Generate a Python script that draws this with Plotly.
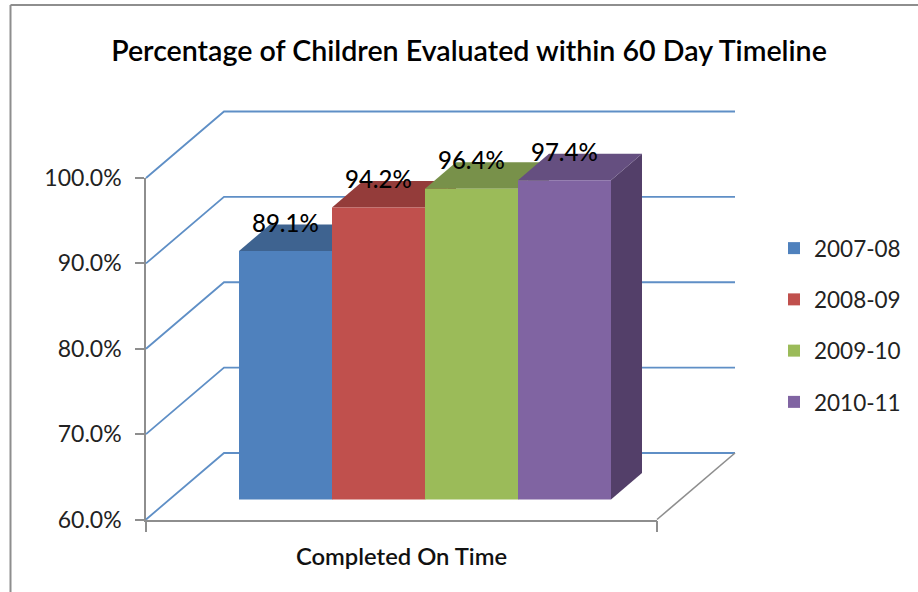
import plotly.graph_objects as go

TITLE = "Percentage of Children Evaluated within 60 Day Timeline"
CATEGORY = "Completed On Time"
series = ["2007-08", "2008-09", "2009-10", "2010-11"]
values = [89.1, 94.2, 96.4, 97.4]
labels = ["89.1%", "94.2%", "96.4%", "97.4%"]
y_ticks = [60, 70, 80, 90, 100]
y_tick_labels = ["60.0%", "70.0%", "80.0%", "90.0%", "100.0%"]
front_colors = ["#4F81BD", "#C0504D", "#9BBB59", "#8064A2"]
top_colors = ["#3E6390", "#943C3A", "#78914A", "#654F80"]
side_colors = ["#35547A", "#7E3331", "#657B3A", "#533F69"]

W, H = 918, 592
AX_L, AX_R, AX_T, AX_B = 146.0, 657.0, 178.0, 519.5
PX_X = AX_R - AX_L
PX_Y = (AX_B - AX_T) / 40.0        # pixels per percentage point
WALL_PX_X, WALL_PX_Y = 78.0, 66.5
WALL_DX, WALL_DY = WALL_PX_X / PX_X, WALL_PX_Y / PX_Y
BAR_SHIFT_X, BAR_SHIFT_Y = 23.5, 20.0
BAR_PX_X, BAR_PX_Y = 31.0, 26.5
BAR_DX, BAR_DY = BAR_PX_X / PX_X, BAR_PX_Y / PX_Y
BARGAP = 1 - 372.0 / PX_X
GROUP = 1 - BARGAP
PAD = 3.0  # spare pixels round the enlarged subplots, so their lines are not cut
BLUE = "#5F8FC6"
GREY = "#8E8E8E"
FONT = "Lato"


def x_span(shift, extra):
    """domain and range of an x axis with the base scale, moved by shift, grown by extra px."""
    dom = [(AX_L + shift - PAD) / W, (AX_R + shift + extra + PAD) / W]
    rng = [-0.5 - PAD / PX_X, 0.5 + (extra + PAD) / PX_X]
    return dict(domain=dom, range=rng)


def y_span(shift, extra):
    dom = [(H - AX_B + shift - PAD) / H, (H - AX_T + shift + extra + PAD) / H]
    rng = [60 - PAD / PX_Y, 100 + (extra + PAD) / PX_Y]
    return dict(domain=dom, range=rng)


fig = go.Figure()

# the front axes: this trace only makes Plotly draw them
fig.add_trace(go.Scatter(x=[-0.5], y=[60], mode="lines", showlegend=False, hoverinfo="skip"))

# walls and floor, on a subplot enlarged to reach the back wall
for lv in y_ticks:
    fig.add_trace(go.Scatter(
        x=[-0.5, -0.5 + WALL_DX, 0.5 + WALL_DX], y=[lv, lv + WALL_DY, lv + WALL_DY],
        xaxis="x2", yaxis="y2", mode="lines", line=dict(color=BLUE, width=1.8),
        showlegend=False, hoverinfo="skip"))
fig.add_trace(go.Scatter(
    x=[0.5, 0.5 + WALL_DX], y=[60, 60 + WALL_DY], xaxis="x2", yaxis="y2", mode="lines",
    line=dict(color=GREY, width=1.6), showlegend=False, hoverinfo="skip"))

centers = [-GROUP / 2 + (i + 0.5) * GROUP / 4 for i in range(4)]
bw = GROUP / 4

# depth faces, stacked above the walls and below the bar fronts
for c, v, tc, sc in zip(centers, values, top_colors, side_colors):
    l, r = c - bw / 2, c + bw / 2
    fig.add_trace(go.Scatter(
        x=[r, r + BAR_DX, r + BAR_DX, r, r], y=[60, 60 + BAR_DY, v + BAR_DY, v, 60],
        xaxis="x3", yaxis="y3", mode="lines", fill="toself", fillcolor=sc,
        line=dict(width=0), showlegend=False, hoverinfo="skip"))
    fig.add_trace(go.Scatter(
        x=[l, l + BAR_DX, r + BAR_DX, r, l], y=[v, v + BAR_DY, v + BAR_DY, v, v],
        xaxis="x3", yaxis="y3", mode="lines", fill="toself", fillcolor=tc,
        line=dict(width=0), showlegend=False, hoverinfo="skip"))

# bar fronts
for name, v, col in zip(series, values, front_colors):
    fig.add_trace(go.Bar(
        x=[0], y=[v], name=name, xaxis="x4", yaxis="y4", legendgroup=name,
        marker=dict(color=col, line=dict(width=0))))

x_dom = [AX_L / W, AX_R / W]
y_dom = [(H - AX_B) / H, (H - AX_T) / H]
hidden = dict(visible=False, showgrid=False, zeroline=False, fixedrange=True)

fig.update_layout(
    width=W, height=H, margin=dict(l=0, r=0, t=0, b=0, autoexpand=False),
    paper_bgcolor="white", plot_bgcolor="rgba(0,0,0,0)",
    barmode="group", bargap=BARGAP, bargroupgap=0,
    font=dict(family=FONT, color="#222222"),
    title=dict(text=TITLE, x=469 / W, xanchor="center", y=1 - 51 / H, yanchor="middle",
               font=dict(family=FONT, size=28.6, color="#000000", weight=600)),
    xaxis=dict(domain=x_dom, range=[-0.5, 0.5], tickvals=[-0.5, 0.5], ticktext=["", ""],
               ticks="outside", ticklen=11, tickwidth=1.6, tickcolor=GREY,
               showline=True, linecolor=GREY, linewidth=1.6, showgrid=False, zeroline=False,
               title=dict(text=CATEGORY, standoff=15,
                          font=dict(family=FONT, size=23.8, color="#111111", weight=600))),
    yaxis=dict(domain=y_dom, range=[60, 100], tickvals=y_ticks, ticktext=y_tick_labels,
               ticks="outside", ticklen=9, tickwidth=1.6, tickcolor=GREY, ticklabelstandoff=9,
               showline=True, linecolor=GREY, linewidth=1.6, showgrid=False, zeroline=False,
               tickfont=dict(family=FONT, size=23, color="#222222")),
    xaxis2=dict(hidden, **x_span(0, WALL_PX_X), anchor="y2"),
    yaxis2=dict(hidden, **y_span(0, WALL_PX_Y), anchor="x2"),
    xaxis3=dict(hidden, **x_span(BAR_SHIFT_X, BAR_PX_X), anchor="y3"),
    yaxis3=dict(hidden, **y_span(BAR_SHIFT_Y, BAR_PX_Y), anchor="x3"),
    xaxis4=dict(hidden, domain=[(AX_L + BAR_SHIFT_X) / W, (AX_R + BAR_SHIFT_X) / W],
                range=[-0.5, 0.5], anchor="y4"),
    yaxis4=dict(hidden, domain=[(H - AX_B + BAR_SHIFT_Y) / H, (H - AX_T + BAR_SHIFT_Y) / H],
                range=[60, 100], anchor="x4"),
    legend=dict(x=774 / W, xanchor="left", y=1 - 227 / H, yanchor="top", orientation="v",
                traceorder="grouped", tracegroupgap=19, bgcolor="rgba(0,0,0,0)",
                font=dict(family=FONT, size=22.5, color="#222222"), itemclick=False),
    shapes=[
        dict(type="line", xref="paper", yref="paper", x0=10.5 / W, x1=10.5 / W, y0=0, y1=1 - 5 / H,
             line=dict(color=GREY, width=2)),
        dict(type="line", xref="paper", yref="paper", x0=10.5 / W, x1=1, y0=1 - 5 / H, y1=1 - 5 / H,
             line=dict(color=GREY, width=2)),
    ],
    annotations=[
        dict(x=c, y=v, xref="x4", yref="y4", text=t, showarrow=False, yshift=29,
             xanchor="center", yanchor="middle",
             font=dict(family=FONT, size=24, color="#000000", weight=500))
        for c, v, t in zip(centers, values, labels)
    ],
)
fig.write_html("out.html", config=dict(displayModeBar=False),
               post_script="document.body.style.margin='0';document.body.style.overflow='hidden';")
